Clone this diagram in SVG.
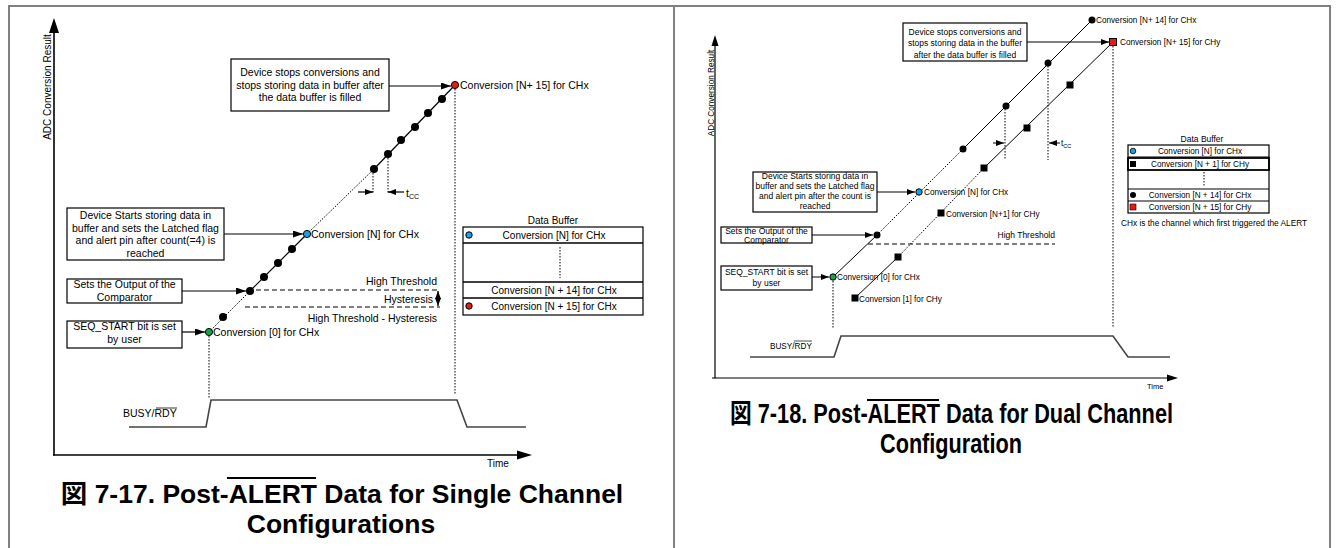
<svg xmlns="http://www.w3.org/2000/svg" width="1338" height="548" viewBox="0 0 1338 548">
<style>
text{font-family:"Liberation Sans",Arial,"Noto Sans CJK JP",sans-serif;fill:#000}
.s105{font-size:10.5px}
.s10{font-size:10px}
.s85{font-size:8.5px}
.s8{font-size:8.2px}
.m{text-anchor:middle}
.e{text-anchor:end}
.box{fill:#fff;stroke:#000;stroke-width:1.2}
.ln{fill:none;stroke:#000;stroke-width:1.2}
.ln2{fill:none;stroke:#000;stroke-width:1}
.dot{fill:none;stroke:#000;stroke-width:1;stroke-dasharray:1.5,1.5}
.dash{fill:none;stroke:#000;stroke-width:1;stroke-dasharray:5,3}
.busy{fill:none;stroke:#444;stroke-width:1.6}
.frame{fill:none;stroke:#808080;stroke-width:2}
.cap{font-size:26.5px;font-weight:bold}
</style>
<defs>
<marker id="ah" markerUnits="userSpaceOnUse" markerWidth="10" markerHeight="7" refX="10" refY="3.5" orient="auto"><path d="M0,0 L10,3.5 L0,7 z" fill="#000"/></marker>
<marker id="as" markerUnits="userSpaceOnUse" markerWidth="8" markerHeight="6" refX="8" refY="3" orient="auto"><path d="M0,0 L8,3 L0,6 z" fill="#000"/></marker>
<marker id="ad" markerUnits="userSpaceOnUse" markerWidth="8" markerHeight="6" refX="8" refY="3" orient="auto-start-reverse"><path d="M0,0 L8,3 L0,6 z" fill="#000"/></marker>
</defs>

<g id="frame">
<line class="frame" x1="8" y1="6" x2="1331" y2="6"/>
<line class="frame" x1="9" y1="5" x2="9" y2="548"/>
<line class="frame" x1="674" y1="5" x2="674" y2="548"/>
<line class="frame" x1="1330" y1="5" x2="1330" y2="548"/>
</g>

<!-- ============ LEFT PANEL ============ -->
<g id="left-axes">
<line x1="54" y1="30" x2="54" y2="455.5" stroke="#000" stroke-width="1.6"/>
<polygon points="54,18 49,33 59,33" fill="#000"/>
<line x1="53" y1="455" x2="520" y2="455" stroke="#000" stroke-width="1.6"/>
<polygon points="532,455 517,450.5 517,459.5" fill="#000"/>
<text class="s10" transform="translate(50.5,87) rotate(-90)" text-anchor="middle">ADC Conversion Result</text>
<text class="s10" x="487" y="467">Time</text>
</g>

<g id="left-box-stop">
<rect class="box" x="231" y="59" width="158" height="52"/>
<text class="s105 m" x="310" y="76">Device stops conversions and</text>
<text class="s105 m" x="310" y="89">stops storing data in buffer after</text>
<text class="s105 m" x="310" y="101">the  data buffer is filled</text>
</g>
<g id="left-box-start">
<rect class="box" x="67" y="208" width="157" height="52"/>
<text class="s105 m" x="145.5" y="219">Device Starts storing data in</text>
<text class="s105 m" x="145.5" y="232">buffer  and sets the Latched flag</text>
<text class="s105 m" x="145.5" y="244">and alert pin after count(=4) is</text>
<text class="s105 m" x="145.5" y="257">reached</text>
</g>
<g id="left-box-comp">
<rect class="box" x="67" y="279" width="115" height="24"/>
<text class="s105 m" x="124.5" y="288">Sets the Output of the</text>
<text class="s105 m" x="124.5" y="301">Comparator</text>
</g>
<g id="left-box-seq">
<rect class="box" x="67" y="321" width="115" height="27"/>
<text class="s105 m" x="124.5" y="330">SEQ_START bit is set</text>
<text class="s105 m" x="124.5" y="343">by user</text>
</g>

<g id="left-connectors">
<line class="ln" x1="389" y1="86" x2="451" y2="86" marker-end="url(#ah)"/>
<line class="ln" x1="224" y1="234" x2="303" y2="234" marker-end="url(#ah)"/>
<line class="ln" x1="182" y1="291" x2="246" y2="291" marker-end="url(#ah)"/>
<line class="ln" x1="182" y1="332" x2="205" y2="332" marker-end="url(#ah)"/>
<line class="dot" x1="209" y1="332" x2="250" y2="291"/>
<line class="ln" x1="250" y1="291" x2="307" y2="234"/>
<line class="dot" x1="307" y1="234" x2="374" y2="169"/>
<line class="ln" x1="374" y1="169" x2="455" y2="85"/>
<line class="dot" x1="209" y1="336" x2="209" y2="398"/>
<line class="dot" x1="455" y1="89" x2="455" y2="395"/>
<line class="dot" x1="373" y1="170" x2="373" y2="193"/>
<line class="dot" x1="388" y1="155" x2="388" y2="193"/>
<line class="ln" x1="358" y1="192" x2="373" y2="192" marker-end="url(#as)"/>
<line class="ln" x1="404" y1="192" x2="388" y2="192" marker-end="url(#as)"/>
<line class="dash" x1="256" y1="290" x2="440" y2="290"/>
<line class="dash" x1="245" y1="307" x2="440" y2="307"/>
<line class="ln" x1="438" y1="291" x2="438" y2="306" marker-start="url(#ad)" marker-end="url(#ad)"/>
<polyline class="busy" points="129,427 206,427 211,400 457,400 467,427 526,427"/>
</g>

<g id="left-points">
<circle cx="223" cy="317" r="4" fill="#000"/>
<circle cx="250" cy="291" r="4" fill="#000"/>
<circle cx="264" cy="277" r="4" fill="#000"/>
<circle cx="278" cy="263" r="4" fill="#000"/>
<circle cx="292" cy="249" r="4" fill="#000"/>
<circle cx="374" cy="169" r="4" fill="#000"/>
<circle cx="388" cy="154" r="4" fill="#000"/>
<circle cx="401" cy="140" r="4" fill="#000"/>
<circle cx="415" cy="127" r="4" fill="#000"/>
<circle cx="428" cy="113" r="4" fill="#000"/>
<circle cx="442" cy="99" r="4" fill="#000"/>
<circle cx="209" cy="332" r="3.6" fill="#16a34a" stroke="#000" stroke-width="1"/>
<circle cx="307" cy="234" r="3.6" fill="#1ba1e2" stroke="#000" stroke-width="1"/>
<circle cx="455" cy="85" r="3.6" fill="#e41b1b" stroke="#000" stroke-width="1"/>
</g>

<g id="left-labels">
<text class="s105" x="460" y="89">Conversion [N+ 15] for CHx</text>
<text class="s105" x="311" y="238">Conversion [N] for CHx</text>
<text class="s105" x="213" y="336">Conversion [0] for CHx</text>
<text class="s105" x="406" y="197">t<tspan font-size="7" dy="2">CC</tspan></text>
<text class="s105 e" x="437" y="285">High Threshold</text>
<text class="s105 e" x="433" y="303">Hysteresis</text>
<text class="s105 e" x="437" y="322">High Threshold - Hysteresis</text>
<text class="s105" x="123" y="417">BUSY/RDY</text>
<line x1="156" y1="408" x2="177" y2="408" stroke="#000" stroke-width="0.8"/>
</g>

<g id="left-buffer">
<text class="s10 m" x="553" y="224">Data Buffer</text>
<rect class="box" x="463" y="227" width="180" height="88" stroke-width="1.5"/>
<line x1="463" y1="243" x2="643" y2="243" stroke="#000" stroke-width="1.5"/>
<line x1="463" y1="282" x2="643" y2="282" stroke="#000" stroke-width="1.5"/>
<line x1="463" y1="298" x2="643" y2="298" stroke="#000" stroke-width="1.5"/>
<line class="dot" x1="560" y1="247" x2="560" y2="278"/>
<circle cx="469" cy="235" r="3.2" fill="#1ba1e2" stroke="#000" stroke-width="1"/>
<circle cx="469" cy="306" r="3.2" fill="#e41b1b" stroke="#000" stroke-width="1"/>
<text class="s10 m" x="554" y="238.5">Conversion [N] for CHx</text>
<text class="s10 m" x="554" y="293.5">Conversion [N + 14] for CHx</text>
<text class="s10 m" x="554" y="309.5">Conversion [N + 15] for CHx</text>
</g>

<g id="left-caption">
<text class="cap m" x="342" y="503">図 7-17. Post-ALERT Data for Single Channel</text>
<text class="cap m" x="341" y="533">Configurations</text>
<line x1="227" y1="478" x2="316" y2="478" stroke="#000" stroke-width="2"/>
</g>

<!-- ============ RIGHT PANEL ============ -->
<g id="right-axes">
<line x1="715" y1="44" x2="715" y2="378.5" stroke="#000" stroke-width="1.2"/>
<polygon points="715,35 711.5,46 718.5,46" fill="#000"/>
<line x1="712" y1="378" x2="1168" y2="378" stroke="#000" stroke-width="1.2"/>
<polygon points="1178,378 1167,374.5 1167,381.5" fill="#000"/>
<text class="s8" transform="translate(714,93) rotate(-90)" text-anchor="middle">ADC Conversion Result</text>
<text x="1147" y="389" font-size="7.5">Time</text>
</g>

<g id="right-box-stop">
<rect class="box" x="903" y="23" width="124" height="38" stroke-width="1"/>
<text class="s85 m" x="965" y="35">Device stops conversions and</text>
<text class="s85 m" x="965" y="46">stops storing data in the buffer</text>
<text class="s85 m" x="965" y="58">after the data buffer is filled</text>
</g>
<g id="right-box-start">
<rect class="box" x="753" y="172" width="124" height="40" stroke-width="1"/>
<text class="s85 m" x="815" y="179">Device Starts storing data in</text>
<text class="s85 m" x="815" y="189">buffer  and sets the Latched flag</text>
<text class="s85 m" x="815" y="199">and alert pin after the count is</text>
<text class="s85 m" x="815" y="209">reached</text>
</g>
<g id="right-box-comp">
<rect class="box" x="721" y="227" width="91" height="16" stroke-width="1"/>
<text class="s85 m" x="766.5" y="234">Sets the Output of the</text>
<text class="s85 m" x="766.5" y="243">Comparator</text>
</g>
<g id="right-box-seq">
<rect class="box" x="721" y="266" width="91" height="24" stroke-width="1"/>
<text class="s85 m" x="766.5" y="275">SEQ_START bit is set</text>
<text class="s85 m" x="766.5" y="286">by user</text>
</g>

<g id="right-connectors">
<line class="ln2" x1="1027" y1="42" x2="1109" y2="42" marker-end="url(#as)"/>
<line class="ln2" x1="877" y1="192" x2="915" y2="192" marker-end="url(#as)"/>
<line class="ln2" x1="812" y1="235" x2="873" y2="235" marker-end="url(#as)"/>
<line class="ln2" x1="812" y1="277" x2="829" y2="277" marker-end="url(#as)"/>
<line class="ln2" x1="833" y1="277" x2="877" y2="235"/>
<line class="dot" x1="877" y1="235" x2="963" y2="149"/>
<line class="ln2" x1="963" y1="149" x2="1092" y2="20"/>
<line class="ln2" x1="855" y1="298" x2="898" y2="257"/>
<line class="dot" x1="898" y1="257" x2="984" y2="168"/>
<line class="ln2" x1="984" y1="168" x2="1113" y2="42"/>
<line class="dot" x1="833" y1="281" x2="833" y2="329"/>
<line class="dot" x1="1005" y1="106" x2="1005" y2="160"/>
<line class="dot" x1="1048" y1="63" x2="1048" y2="160"/>
<line class="dot" x1="1113" y1="46" x2="1113" y2="328"/>
<line class="ln2" x1="993" y1="143" x2="1004" y2="143" marker-end="url(#as)"/>
<line class="ln2" x1="1060" y1="143" x2="1049" y2="143" marker-end="url(#as)"/>
<line class="dash" x1="868" y1="244" x2="1055" y2="244"/>
<polyline class="busy" stroke-width="1.2" points="750,357 834,357 841,336 1113,336 1128,357 1170,357"/>
</g>

<g id="right-points">
<circle cx="877" cy="235" r="3.5" fill="#000"/>
<circle cx="963" cy="149" r="3.5" fill="#000"/>
<circle cx="1006" cy="106" r="3.5" fill="#000"/>
<circle cx="1048" cy="63" r="3.5" fill="#000"/>
<circle cx="1092" cy="20" r="3.5" fill="#000"/>
<circle cx="833" cy="277" r="3.2" fill="#16a34a" stroke="#000" stroke-width="1"/>
<circle cx="919" cy="192" r="3.2" fill="#1ba1e2" stroke="#000" stroke-width="1"/>
<rect x="851.5" y="294.5" width="7" height="7" fill="#000"/>
<rect x="894.5" y="253.5" width="7" height="7" fill="#000"/>
<rect x="937.5" y="209.5" width="7" height="7" fill="#000"/>
<rect x="980.5" y="164.5" width="7" height="7" fill="#000"/>
<rect x="1023.5" y="124.5" width="7" height="7" fill="#000"/>
<rect x="1066.5" y="81.5" width="7" height="7" fill="#000"/>
<rect x="1109.5" y="38.5" width="7" height="7" fill="#e41b1b" stroke="#000" stroke-width="1"/>
</g>

<g id="right-labels">
<text class="s8" x="1096" y="23">Conversion [N+ 14] for CHx</text>
<text class="s8" x="1120" y="45">Conversion [N+ 15] for CHy</text>
<text class="s8" x="924" y="195">Conversion [N] for CHx</text>
<text class="s8" x="946" y="217">Conversion [N+1] for CHy</text>
<text class="s8" x="837" y="280">Conversion [0] for CHx</text>
<text class="s8" x="859" y="302">Conversion [1] for CHy</text>
<text class="s8" x="1061" y="146">t<tspan font-size="5.5" dy="1.5">CC</tspan></text>
<text class="s85 e" x="1055" y="238">High Threshold</text>
<text class="s8" x="770" y="349">BUSY/RDY</text>
<line x1="794" y1="341" x2="812" y2="341" stroke="#000" stroke-width="0.7"/>
</g>

<g id="right-buffer">
<text class="s85 m" x="1202" y="142">Data Buffer</text>
<rect class="box" x="1128" y="145" width="141" height="68" stroke-width="1"/>
<line x1="1128" y1="157" x2="1269" y2="157" stroke="#000" stroke-width="1"/>
<rect x="1128" y="158" width="141" height="12" fill="none" stroke="#000" stroke-width="1.8"/>
<line x1="1128" y1="189" x2="1269" y2="189" stroke="#000" stroke-width="1"/>
<line x1="1128" y1="201" x2="1269" y2="201" stroke="#000" stroke-width="1"/>
<line class="dot" x1="1204" y1="172" x2="1204" y2="187"/>
<circle cx="1133" cy="151" r="2.8" fill="#1ba1e2" stroke="#000" stroke-width="0.8"/>
<rect x="1130" y="161" width="6" height="6" fill="#000"/>
<circle cx="1133" cy="195" r="3" fill="#000"/>
<rect x="1130" y="204" width="6" height="6" fill="#e41b1b" stroke="#000" stroke-width="0.6"/>
<text class="s8 m" x="1200" y="154">Conversion [N] for CHx</text>
<text class="s8 m" x="1200" y="167">Conversion [N + 1] for CHy</text>
<text class="s8 m" x="1200" y="198">Conversion [N + 14] for CHx</text>
<text class="s8 m" x="1200" y="210">Conversion [N + 15] for CHy</text>
<text x="1121" y="226" font-size="8.3">CHx is the channel which first triggered the ALERT</text>
</g>

<g id="right-caption">
<text class="m" x="951.5" y="423" font-size="27" font-weight="bold" textLength="443" lengthAdjust="spacingAndGlyphs">図 7-18. Post-ALERT Data for Dual Channel</text>
<text class="m" x="951" y="453" font-size="27" font-weight="bold" textLength="142" lengthAdjust="spacingAndGlyphs">Configuration</text>
<line x1="867" y1="400" x2="939" y2="400" stroke="#000" stroke-width="2"/>
</g>
</svg>
